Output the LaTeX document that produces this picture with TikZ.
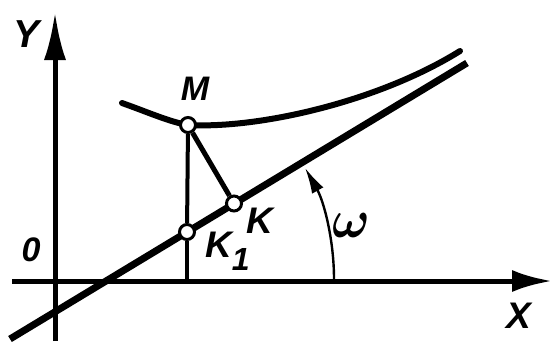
\documentclass[tikz,border=0pt]{standalone}
\usepackage{bm}
\usepackage{fontspec}
\setmainfont{Liberation Sans}
\usetikzlibrary{arrows.meta}
\begin{document}
\begin{tikzpicture}[x=1pt,y=1pt,
  lbl/.style={font=\bfseries\itshape\fontsize{36}{36}\selectfont, inner sep=0pt},
  pt/.style={circle, draw, fill=white, line width=3pt, minimum size=15pt, inner sep=0pt},
  axis/.style={line width=5pt}]
\useasboundingbox (0,0) rectangle (552,341);
% axes
\coordinate (xs) at (12,60);
\coordinate (xe) at (552,60);
\coordinate (ys) at (55,0);
\coordinate (ye) at (55,329);
\draw[axis, -{Latex[length=40pt,width=22pt]}] (xs) -- (xe);
\draw[axis, -{Latex[length=48pt,width=22pt]}] (ys) -- (ye);
% inclined line
\coordinate (ls) at (10,2);
\coordinate (le) at (467,278);
\draw[line width=7pt] (ls) -- (le);
% curve
\coordinate (cs) at (122,238);
\coordinate (cm) at (188,216);
\coordinate (ce) at (460,290);
\draw[line width=6pt, line cap=round] (cs) .. controls (150,228) and (170,219) .. (cm)
  .. controls (260,212) and (380,240) .. (ce);
% points
\node[pt] (M) at (cm) {};
\node[pt] (K) at (234,137.5) {};
\node[pt] (K1) at (187,109) {};
\coordinate (F) at (187,60);
\draw[line width=4pt] (M) -- (K1);
\draw[line width=4pt] (K1) -- (F);
\draw[line width=5pt] (M) -- (K);
% angle arc
\coordinate (O) at (106,60);
\draw[line width=2.4pt, -{Latex[length=26pt,width=13pt]}] (334,62) arc[start angle=0, end angle=29.2, radius=228];
% labels
\node[lbl, font=\bfseries\itshape\fontsize{39}{39}\selectfont] (Yl) at (27,307) {Y};
\node[lbl, font=\bfseries\itshape\fontsize{37}{37}\selectfont] (Xl) at (519,25) {X};
\node[lbl, font=\bfseries\itshape\fontsize{34}{34}\selectfont] (zero) at (31,91) {0};
\node[lbl, font=\bfseries\itshape\fontsize{34}{34}\selectfont] (Ml) at (195,252) {M};
\node[lbl, font=\bfseries\itshape\fontsize{37}{37}\selectfont] (Kl) at (260,120) {K};
\node[lbl, font=\bfseries\itshape\fontsize{37}{37}\selectfont, anchor=base west] (K1l) at (205,84) {K\raisebox{-13pt}{\fontsize{32}{32}\selectfont 1}};
\node[inner sep=0pt] (w) at (351,116) {\scalebox{5.0}[5.4]{$\bm{\omega}$}};
\end{tikzpicture}
\end{document}
